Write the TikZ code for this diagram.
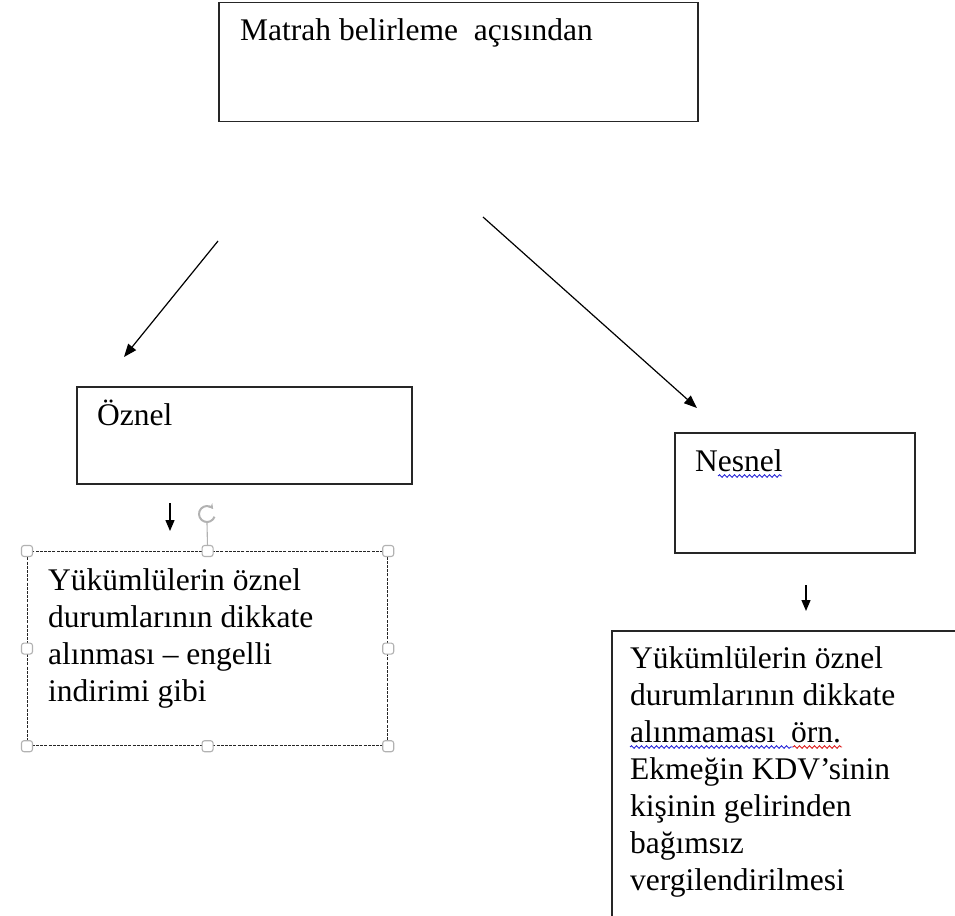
\documentclass[tikz,border=0pt]{standalone}
\usepackage{fontspec}
\setmainfont{Liberation Serif}
\usetikzlibrary{arrows.meta, positioning, calc, decorations.pathmorphing}

\definecolor{wavyblue}{RGB}{40,40,215}
\definecolor{wavyred}{RGB}{220,30,30}

\begin{document}
\begin{tikzpicture}[
    x=1pt, y=-1pt,
    box/.style={rectangle, draw=black!85, line width=1.5pt, inner sep=0pt, anchor=north west},
    selbox/.style={box, dash pattern=on 3pt off 1.2pt, line width=1.2pt},
    txt/.style={anchor=base west, align=left, inner sep=0pt, font=\fontsize{31.5}{37}\selectfont},
    handle/.style={rectangle, rounded corners=2.5pt, draw=gray!60, fill=white, line width=1.1pt, minimum size=11pt, inner sep=0pt},
    wavy/.style={decorate, decoration={snake, segment length=5pt, amplitude=1.3pt}, line width=0.9pt},
    line/.style={draw, -{Triangle[length=13pt,width=10pt]}, line width=1.2pt},
    shortline/.style={draw, -{Triangle[length=11pt,width=9pt]}, line width=1.3pt}
]
\useasboundingbox (0,0) rectangle (955,915);

% boxes
\node [box, minimum width=479pt, minimum height=119pt] (matrahbox) at (218,2) {};
\node [box, minimum width=335pt, minimum height=97pt] (oznelbox) at (76,386) {};
\node [box, minimum width=240pt, minimum height=120pt] (nesnelbox) at (674,432) {};
\node [selbox, minimum width=360pt, minimum height=194pt] (oznelnote) at (27,551) {};
\node [box, minimum width=400pt, minimum height=330pt] (nesnelnote) at (611,630) {};

% texts
\node [txt] (matrah) at (240,41) {Matrah belirleme\ \ açısından};
\node [txt] (oznel) at (97,425) {Öznel};
\node [txt] (nesnel) at (695,471) {Nesnel};
\node [txt, anchor=north west] (oznelmetin) at (48,568) {Yükümlülerin öznel\\durumlarının dikkate\\alınması -- engelli\\indirimi gibi};
\node [txt, anchor=north west] (nesnelmetin) at (630,646) {Yükümlülerin öznel\\durumlarının dikkate\\alınmaması\ \ örn.\\Ekmeğin KDV’sinin\\kişinin gelirinden\\bağımsız\\vergilendirilmesi};

% spelling marks
\draw [wavy, wavyblue] ($(nesnel.base west)+(23,5)$) -- ($(nesnel.base west)+(87,5)$);
\draw [wavy, wavyblue] ($(nesnelmetin.north west)+(0,101)$) -- ($(nesnelmetin.north west)+(163,101)$);
\draw [wavy, wavyred] ($(nesnelmetin.north west)+(163,101)$) -- ($(nesnelmetin.north west)+(212,101)$);

% selection handles
\coordinate (rot) at (207,514);
\draw [gray!60, line width=1.1pt] ($(rot)+(0,9)$) -- (oznelnote.north);
\draw [gray!60, line width=2pt, -{Stealth[length=5pt,width=6pt]}] ($(rot)+(20:8)$) arc[start angle=20, end angle=320, radius=8];
\foreach \a in {north west, north, north east, west, east, south west, south, south east}
    \node [handle] at (oznelnote.\a) {};

% arrows
\coordinate (leftstart) at (218,241);
\coordinate (leftend) at (124,357);
\coordinate (rightstart) at (483,217);
\coordinate (rightend) at (697,408);
\coordinate (oznelstart) at (170,503);
\coordinate (oznelend) at (170,531);
\coordinate (nesnelstart) at (806,585);
\coordinate (nesnelend) at (806,611);

\path [line] (leftstart) -- (leftend);
\path [line] (rightstart) -- (rightend);
\path [shortline] (oznelstart) -- (oznelend);
\path [shortline] (nesnelstart) -- (nesnelend);

\end{tikzpicture}
\end{document}
